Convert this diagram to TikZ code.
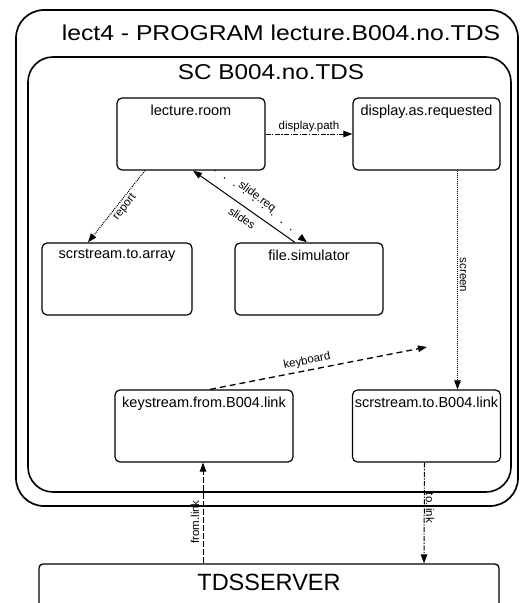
\documentclass[tikz,border=0pt]{standalone}
\usepackage{fontspec}
\usepackage{graphicx}
\setmainfont{Liberation Sans}
\usetikzlibrary{arrows.meta,calc}
\begin{document}
\begin{tikzpicture}[x=1pt,y=-1pt,
  frame/.style={draw, line width=1.6pt, inner sep=0pt},
  box/.style={draw, line width=1.2pt, rounded corners=5pt, minimum width=148pt, minimum height=72pt, inner sep=0pt},
  lbl/.style={anchor=north, inner sep=0pt, yshift=-7pt, font=\fontsize{14.5}{16}\selectfont},
  big/.style={font=\fontsize{21.5}{24}\selectfont, inner sep=0pt},
  sm/.style={font=\fontsize{11.5}{13}\selectfont, inner sep=1pt},
  arr/.style={-{Triangle[length=9pt,width=6.5pt]}, line width=1pt},
  dashdot/.style={dash pattern=on 5pt off 1.5pt on 1.2pt off 1.5pt},
]
\useasboundingbox (0,0) rectangle (521,603);

% containers
\node[frame, line width=1.7pt, rounded corners=28pt, minimum width=502pt, minimum height=496pt] (prog) at (267,258) {};
\node[big] (progtitle) at (281,33) {\scalebox{1.15}[1]{lect4 - PROGRAM lecture.B004.no.TDS}};
\node[frame, rounded corners=25pt, minimum width=483pt, minimum height=435pt] (sc) at (269.5,274.5) {};
\node[big] (sctitle) at (271,72) {\scalebox{1.13}[1]{SC B004.no.TDS}};

% process boxes
\node[box, label={[lbl]north:lecture.room}] (lr) at (191,134) {};
\node[box, minimum width=147pt, label={[lbl]north:display.as.requested}] (dar) at (426.5,134) {};
\node[box, minimum width=150pt, label={[lbl]north:scrstream.to.array}] (sta) at (117,279) {};
\node[box, label={[lbl]north:file.simulator}] (fs) at (309,279) {};
\node[box, minimum width=178pt, label={[lbl]north:keystream.from.B004.link}] (ksl) at (204,426) {};
\node[box, label={[lbl]north:scrstream.to.B004.link}] (stl) at (426.5,426) {};

\begin{scope}
  \clip (0,0) rectangle (521,603);
  \node[draw, line width=1.3pt, rounded corners=4pt, minimum width=460pt, minimum height=80pt, inner sep=0pt,
        label={[anchor=north, inner sep=0pt, yshift=-11pt, font=\fontsize{23.5}{26}\selectfont]north:TDSSERVER}] (tds) at (269,604) {};
\end{scope}

% connectors
\draw[arr, dashdot] (lr.east) -- (dar.west) node[sm, midway, above=1pt] (lblpath) {display.path};

\draw[arr, densely dotted] ([xshift=-46pt]lr.south) -- ([xshift=-29pt]sta.north);
\node[sm, rotate=52] (lblreport) at (125,207) {report};

\draw[arr] ([xshift=-14pt]fs.north) -- ([xshift=2pt]lr.south);
\node[sm, rotate=-34] (lblslides) at (242,218) {slides};

\draw[arr, line width=1.6pt, dash pattern=on 0pt off 12pt, line cap=round] ([xshift=24pt]lr.south) -- ([xshift=-2pt]fs.north);
\node[sm, rotate=-37] (lblreq) at (257,197) {slide.req};

\draw[arr, densely dotted] ([xshift=31pt]dar.south) -- ([xshift=31pt]stl.north);
\node[sm, rotate=-90] (lblscreen) at (463,275) {screen};

\coordinate (kbend) at (427,347);
\draw[arr, line width=1.3pt, dash pattern=on 6pt off 4pt] ([xshift=6pt]ksl.north) -- (kbend);
\node[sm, rotate=11] (lblkb) at (307,361) {keyboard};

\draw[arr, dash pattern=on 6pt off 2pt] ([xshift=-66pt]tds.north) -- ([xshift=-1pt]ksl.south);
\node[sm, rotate=90] (lblfrom) at (195,522) {from.link};

\draw[arr, dashdot] ([xshift=-2pt]stl.south) -- ([xshift=155pt]tds.north);
\node[sm, rotate=-90] (lblto) at (430,508) {to.link};
\end{tikzpicture}
\end{document}
